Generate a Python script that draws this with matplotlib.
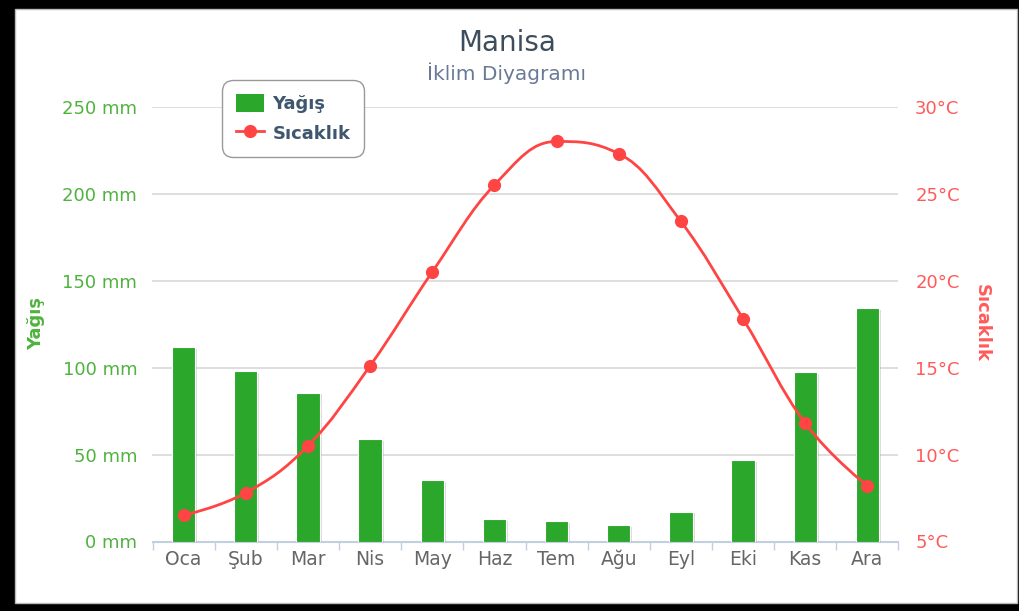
import numpy as np
import matplotlib.pyplot as plt
import matplotlib.patheffects as pe
from matplotlib.path import Path
from matplotlib.patches import PathPatch, Rectangle
from matplotlib.lines import Line2D

# -----------------------------------------------------------------------------
# Veriler
# -----------------------------------------------------------------------------
aylar = ['Oca', 'Şub', 'Mar', 'Nis', 'May', 'Haz', 'Tem', 'Ağu', 'Eyl', 'Eki', 'Kas', 'Ara']
yagis = [111.7, 98, 85.6, 58.9, 35.4, 12.8, 11.8, 9.5, 17.1, 46.9, 97.3, 134.1]
sicaklik = [6.5, 7.8, 10.5, 15.1, 20.5, 25.5, 28.0, 27.3, 23.4, 17.8, 11.8, 8.2]
yagis_ticks = [0, 50, 100, 150, 200, 250]
sicaklik_ticks = [5, 10, 15, 20, 25, 30]

GREEN = '#2BA82B'
GREEN_TXT = '#4FB23E'
RED = '#FF4444'
RED_TXT = '#FF5A5A'

W, H = 1020, 611


def spline_path(xs, ys, smoothing=1.5):
    """Highcharts tarzı spline (kübik bezier kontrol noktaları)."""
    n = len(xs)
    left = [None] * n
    right = [None] * n
    d = smoothing + 1
    for i in range(n):
        x, y = xs[i], ys[i]
        if 0 < i < n - 1:
            lx = (smoothing * x + xs[i - 1]) / d
            ly = (smoothing * y + ys[i - 1]) / d
            rx = (smoothing * x + xs[i + 1]) / d
            ry = (smoothing * y + ys[i + 1]) / d
            corr = (ry - ly) * (rx - x) / (rx - lx) + y - ry
            ly += corr
            ry += corr
            if ly > ys[i - 1] and ly > y:
                ly = max(ys[i - 1], y); ry = 2 * y - ly
            elif ly < ys[i - 1] and ly < y:
                ly = min(ys[i - 1], y); ry = 2 * y - ly
            if ry > ys[i + 1] and ry > y:
                ry = max(ys[i + 1], y); ly = 2 * y - ry
            elif ry < ys[i + 1] and ry < y:
                ry = min(ys[i + 1], y); ly = 2 * y - ry
            left[i] = (lx, ly)
            right[i] = (rx, ry)
        else:
            left[i] = (x, y)
            right[i] = (x, y)
    verts = [(xs[0], ys[0])]
    codes = [Path.MOVETO]
    for i in range(1, n):
        verts += [right[i - 1], left[i], (xs[i], ys[i])]
        codes += [Path.CURVE4] * 3
    return Path(verts, codes)


fig = plt.figure(figsize=(W / 100, H / 100), dpi=100, facecolor='black')
fig.patches.append(Rectangle((15 / W, 1 - 603 / H), (1017 - 15) / W, (603 - 9) / H,
                             transform=fig.transFigure, facecolor='white',
                             edgecolor='#BBBBBB', linewidth=1, zorder=-10))

ax = fig.add_axes([152.5 / W, 1 - 541.5 / H, (898.5 - 152.5) / W, 434.8 / H])
ax.set_facecolor('none')
x = np.arange(len(aylar))

# yağış çubukları
ax.bar(x, yagis, width=0.375, color=GREEN, edgecolor='white', linewidth=0.8, zorder=3,
       path_effects=[pe.SimplePatchShadow(offset=(1.5, -1.2), shadow_rgbFace='#777777', alpha=0.25),
                     pe.Normal()])

ax.set_xlim(-0.5, len(aylar) - 0.5)
ax.set_ylim(0, 250)
ax.set_yticks(yagis_ticks)
ax.set_yticklabels([f'{v} mm' for v in yagis_ticks])
ax.yaxis.grid(True, color='#D8D8D8', linewidth=1.2)
ax.set_axisbelow(True)
ax.tick_params(axis='y', length=0, pad=11, labelcolor=GREEN_TXT, labelsize=13)

ax.set_xticks(np.arange(-0.5, len(aylar), 1))
ax.set_xticklabels([])
ax.set_xticks(x, minor=True)
ax.set_xticklabels(aylar, minor=True)
ax.tick_params(axis='x', which='major', length=6, width=1, color='#C0D0E0')
ax.tick_params(axis='x', which='minor', length=0, pad=6, labelcolor='#666666', labelsize=13.5)

for s in ['top', 'left', 'right']:
    ax.spines[s].set_visible(False)
ax.spines['bottom'].set_color('#C0D0E0')
ax.spines['bottom'].set_linewidth(1.5)

# sıcaklık ekseni
ax2 = ax.twinx()
ax2.set_ylim(5, 30)
ax2.set_yticks(sicaklik_ticks)
ax2.set_yticklabels([f'{v}°C' for v in sicaklik_ticks])
ax2.tick_params(axis='y', length=0, pad=12, labelcolor=RED_TXT, labelsize=13)
for s in ax2.spines.values():
    s.set_visible(False)

curve = PathPatch(spline_path(list(x), sicaklik), facecolor='none', edgecolor=RED,
                  linewidth=2, transform=ax2.transData, zorder=4, capstyle='round')
ax2.add_patch(curve)
ax2.plot(x, sicaklik, 'o', color=RED, markersize=9.5, markeredgewidth=0, zorder=5)

# başlıklar
fig.text(507 / W, 1 - 43 / H, 'Manisa', ha='center', va='center', fontsize=20, color='#3E4D5C')
fig.text(507 / W, 1 - 73 / H, 'İklim Diyagramı', ha='center', va='center', fontsize=14.5, color='#6A7A96')
fig.text(36 / W, 1 - 323 / H, 'Yağış', ha='center', va='center', rotation=90,
         fontsize=13, fontweight='bold', color=GREEN_TXT)
fig.text(982 / W, 1 - 323 / H, 'Sıcaklık', ha='center', va='center', rotation=270,
         fontsize=13, fontweight='bold', color=RED_TXT)

# lejant
handles = [Rectangle((0, 0), 1, 1, facecolor=GREEN, edgecolor='none'),
           Line2D([], [], color=RED, linewidth=2, marker='o', markersize=9.5, markeredgewidth=0)]
leg = fig.legend(handles, ['Yağış', 'Sıcaklık'], loc='upper left',
                 bbox_to_anchor=(222 / W, 1 - 80 / H), borderaxespad=0, frameon=True,
                 fancybox=True, prop={'size': 13, 'weight': 'bold'}, labelcolor='#3E576F',
                 handlelength=1.6, handleheight=1.2, handletextpad=0.45,
                 borderpad=0.75, labelspacing=0.6)
leg.get_frame().set_edgecolor('#999999')
leg.get_frame().set_linewidth(1)
leg.get_frame().set_alpha(1)
leg.get_frame().set_boxstyle('round,pad=0,rounding_size=0.6')

fig.savefig('out.png', dpi=100, facecolor='black')
